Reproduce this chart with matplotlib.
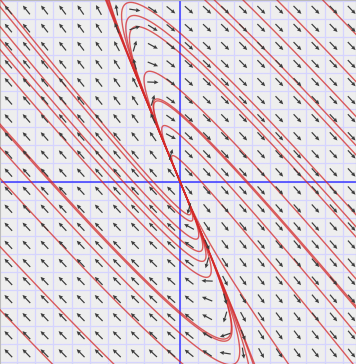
import numpy as np
import matplotlib
matplotlib.use("Agg")
import matplotlib.pyplot as plt

# linear system x' = M x (unstable node) given by eigen-directions and rates
fast_vec = [1.0, -1.3]
slow_vec = [-1.0, 2.4]
fast_rate = 3.5
slow_rate = 1.0

# points the drawn trajectories pass through (data coords)
traj_x = [0.0, 0.0, 0.0, 0.0, 0.0, 0.0,                  # upper-right hooks on y axis
          1.38, 3.49, 5.37, 7.9,                          # upper-right, top edge
          -9.8, -7.2, -3.6, -2.6, -1.5,                   # left lines on y=0
          -9.96, -9.96,                                   # left edge
          0.61, 1.16, 1.55, 2.43,                         # lower-left hook tips
          6.0, 9.74, 9.74, 9.74, 3.0]                     # lower-right
traj_y = [8.22, 7.11, 5.06, 3.79, 2.57, 1.19,
          10.05, 10.05, 10.05, 10.05,
          0.0, 0.0, 0.0, 0.0, 0.0,
          -3.6, -7.1,
          -2.19, -3.85, -5.29, -8.72,
          -10.1, 2.0, -2.5, -7.0, -10.1]

xlim = (-9.96, 9.74)
ylim = (-10.1, 10.05)

P = np.array([fast_vec, slow_vec]).T
D = np.diag([fast_rate, slow_rate])
M = P @ D @ np.linalg.inv(P)

fig = plt.figure(figsize=(3.56, 3.64), dpi=100)
ax = fig.add_axes([0, 0, 1, 1])
ax.set_facecolor("#eeeeee")
ax.set_xlim(*xlim)
ax.set_ylim(*ylim)
for s in ax.spines.values():
    s.set_color("#bbbbbb")
ax.set_xticks([])
ax.set_yticks([])

for k in range(-10, 11):
    ax.axvline(k, color="#d4d4ff", lw=0.9, zorder=1)
    ax.axhline(k, color="#d4d4ff", lw=0.9, zorder=1)
ax.axvline(0, color="#3a3aff", lw=1.1, zorder=2)
ax.axhline(0, color="#3a3aff", lw=1.1, zorder=2)

gx = np.arange(-9.5, 10, 1.0)
X, Y = np.meshgrid(gx, gx)
U = M[0, 0] * X + M[0, 1] * Y
V = M[1, 0] * X + M[1, 1] * Y
N = np.hypot(U, V)
L = 0.62
ax.quiver(X, Y, U / N * L, V / N * L, angles="xy", scale_units="xy", scale=1,
          pivot="middle", color="#3c3c3c", width=0.0034, headwidth=3.4,
          headlength=3.6, headaxislength=3.3, zorder=4)

t = np.linspace(-14, 14, 40000)
for x0, y0 in zip(traj_x, traj_y):
    a0, b0 = np.linalg.solve(P, [x0, y0])
    A = a0 * np.exp(fast_rate * t)
    B = b0 * np.exp(slow_rate * t)
    x = A * fast_vec[0] + B * slow_vec[0]
    y = A * fast_vec[1] + B * slow_vec[1]
    m = (np.abs(x) < 25) & (np.abs(y) < 25)
    ax.plot(x[m], y[m], color="#d42a2a", lw=1.0, alpha=0.75, zorder=3)

fig.savefig("out.png", dpi=100)
